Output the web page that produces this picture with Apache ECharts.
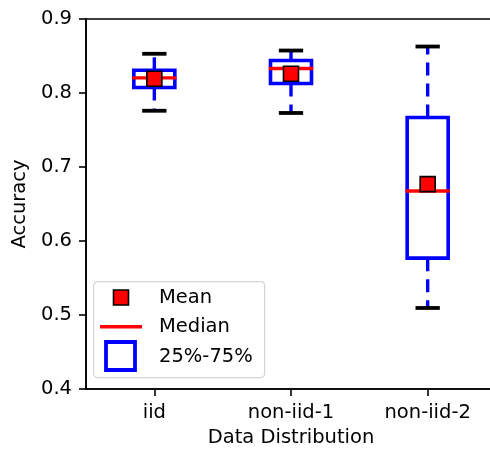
<!DOCTYPE html>
<html><head><meta charset="utf-8">
<script src="https://cdn.jsdelivr.net/npm/echarts@6/dist/echarts.min.js"></script>
<style>html,body{margin:0;padding:0;background:#fff}#c{width:490px;height:449px}</style>
</head><body><div id="c"></div>
<script>
const categories = ['iid', 'non-iid-1', 'non-iid-2'];
const whiskerLow = [0.776, 0.773, 0.5095];
const q1 = [0.8074, 0.8128, 0.5768];
const median = [0.8205, 0.8331, 0.6676];
const q3 = [0.8307, 0.8439, 0.7669];
const whiskerHigh = [0.853, 0.8574, 0.8628];
const mean = [0.8192, 0.8261, 0.6768];
const legendLabels = ['Mean', 'Median', '25%-75%'];

const FONT = '"DejaVu Sans", "Liberation Sans", sans-serif';
const FS = 19.5;

const boxData = categories.map((c, i) => [i, whiskerLow[i], q1[i], median[i], q3[i], whiskerHigh[i]]);
const medianData = categories.map((c, i) => [i, median[i]]);
const meanData = categories.map((c, i) => [i, mean[i]]);

function renderBox(params, api) {
  const i = api.value(0);
  const band = api.size([1, 0])[0];
  const bw = band * 0.3;
  const cw = band * 0.15;
  const x = api.coord([i, 0])[0];
  const yLow = api.coord([i, api.value(1)])[1];
  const yQ1 = api.coord([i, api.value(2)])[1];
  const yQ3 = api.coord([i, api.value(4)])[1];
  const yHigh = api.coord([i, api.value(5)])[1];
  const wStyle = { stroke: '#0000ff', lineWidth: 3.4, lineDash: [13, 8], lineCap: 'butt' };
  const capStyle = { stroke: '#000000', lineWidth: 3.8, lineCap: 'square' };
  return {
    type: 'group',
    children: [
      { type: 'line', shape: { x1: x, y1: yQ1, x2: x, y2: yLow }, style: wStyle },
      { type: 'line', shape: { x1: x, y1: yQ3, x2: x, y2: yHigh }, style: wStyle },
      { type: 'line', shape: { x1: x - cw / 2, y1: yLow, x2: x + cw / 2, y2: yLow }, style: capStyle },
      { type: 'line', shape: { x1: x - cw / 2, y1: yHigh, x2: x + cw / 2, y2: yHigh }, style: capStyle },
      { type: 'rect', shape: { x: x - bw / 2, y: yQ3, width: bw, height: yQ1 - yQ3 },
        style: { fill: 'none', stroke: '#0000ff', lineWidth: 3.6, lineJoin: 'miter' } }
    ]
  };
}

function renderMedian(params, api) {
  const i = api.value(0);
  const band = api.size([1, 0])[0];
  const bw = band * 0.3;
  const x = api.coord([i, 0])[0];
  const y = api.coord([i, api.value(1)])[1];
  return { type: 'line', shape: { x1: x - bw / 2, y1: y, x2: x + bw / 2, y2: y },
    style: { stroke: '#ff0000', lineWidth: 3.4, lineCap: 'square' } };
}

const chart = echarts.init(document.getElementById('c'), null, { renderer: 'canvas' });
const axisCommon = {
  axisLine: { show: true, lineStyle: { color: '#000', width: 1.6 } },
  axisTick: { show: true, inside: false, length: 7, lineStyle: { color: '#000', width: 1.6 } },
  axisLabel: { color: '#000', fontSize: FS, fontFamily: FONT, margin: 14 },
  splitLine: { show: false },
  nameTextStyle: { color: '#000', fontSize: FS, fontFamily: FONT }
};

chart.setOption({
  animation: false,
  backgroundColor: '#fff',
  grid: { left: 86, right: -6, top: 19, bottom: 60, outerBoundsMode: 'none', containLabel: false,
    show: true, borderColor: '#000', borderWidth: 1.6, backgroundColor: 'transparent' },
  xAxis: Object.assign({}, axisCommon, {
    type: 'category', data: categories, boundaryGap: true,
    axisTick: { show: true, inside: false, length: 7, alignWithLabel: true, lineStyle: { color: '#000', width: 1.6 } },
    name: 'Data Distribution', nameLocation: 'middle', nameGap: 39
  }),
  yAxis: Object.assign({}, axisCommon, {
    type: 'value', min: 0.4, max: 0.9, interval: 0.1,
    axisLabel: { color: '#000', fontSize: FS, fontFamily: FONT, margin: 14, formatter: v => v.toFixed(1) },
    name: 'Accuracy', nameLocation: 'middle', nameGap: 55, nameRotate: 90
  }),
  series: [
    { name: '25%-75%', type: 'custom', renderItem: renderBox, data: boxData,
      encode: { x: 0, y: [1, 2, 3, 4, 5] }, z: 2 },
    { name: 'Median', type: 'custom', renderItem: renderMedian, data: medianData,
      encode: { x: 0, y: 1 }, z: 3 },
    { name: 'Mean', type: 'scatter', data: meanData, symbol: 'rect', symbolSize: 15,
      itemStyle: { color: '#ff0000', borderColor: '#000', borderWidth: 1.6, opacity: 1 }, z: 4 }
  ],
  graphic: [
    { type: 'rect', left: 93, top: 281, z: 10,
      shape: { width: 171, height: 96, r: 4 },
      style: { fill: 'rgba(255,255,255,0.8)', stroke: '#d4d4d4', lineWidth: 1.2 } },
    { type: 'rect', z: 11, shape: { x: 113.5, y: 290, width: 15, height: 15 },
      style: { fill: '#ff0000', stroke: '#000', lineWidth: 1.6 } },
    { type: 'line', z: 11, shape: { x1: 100, y1: 326.7, x2: 142, y2: 326.7 },
      style: { stroke: '#ff0000', lineWidth: 3.6 } },
    { type: 'rect', z: 11, shape: { x: 106, y: 342, width: 29, height: 28 },
      style: { fill: 'none', stroke: '#0000ff', lineWidth: 3.8 } },
    { type: 'text', z: 11, x: 159, y: 297.5,
      style: { text: legendLabels[0], fill: '#000', fontSize: FS, fontFamily: FONT, verticalAlign: 'middle' } },
    { type: 'text', z: 11, x: 159, y: 327,
      style: { text: legendLabels[1], fill: '#000', fontSize: FS, fontFamily: FONT, verticalAlign: 'middle' } },
    { type: 'text', z: 11, x: 159, y: 357,
      style: { text: legendLabels[2], fill: '#000', fontSize: FS, fontFamily: FONT, verticalAlign: 'middle' } }
  ]
});
</script>
</body></html>
